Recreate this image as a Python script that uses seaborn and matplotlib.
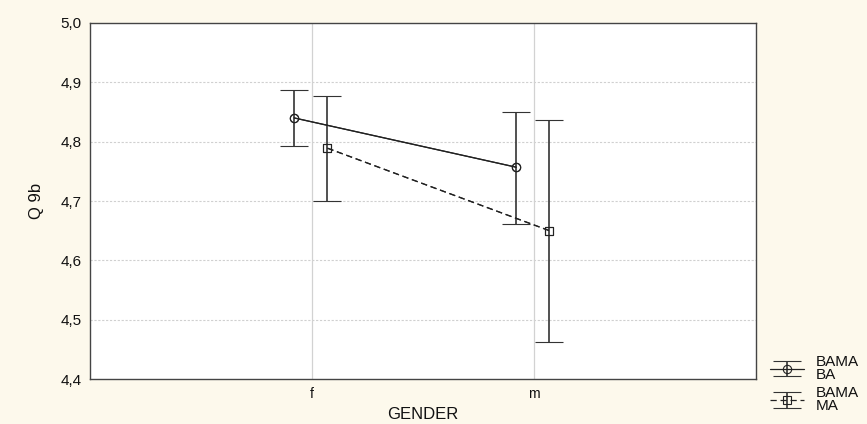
import matplotlib
matplotlib.use("Agg")
import matplotlib.pyplot as plt
import seaborn as sns
import pandas as pd
import numpy as np

# group means and confidence limits
genders = ["f", "m"]
ba_mean = [4.840, 4.757]
ba_low = [4.793, 4.662]
ba_high = [4.887, 4.850]
ma_mean = [4.789, 4.650]
ma_low = [4.700, 4.463]
ma_high = [4.877, 4.836]
series = ["BAMA\nBA", "BAMA\nMA"]
yticks = [4.4, 4.5, 4.6, 4.7, 4.8, 4.9, 5.0]

sns.set_theme(style="white")
plt.rcParams["font.family"] = ["Liberation Sans", "DejaVu Sans"]
plt.rcParams["text.color"] = "#111111"
plt.rcParams["axes.labelcolor"] = "#111111"
plt.rcParams["xtick.color"] = "#111111"
plt.rcParams["ytick.color"] = "#111111"

fig = plt.figure(figsize=(8.67, 4.24), dpi=100, facecolor="#fdf9ec")
ax = fig.add_axes([0.1038, 0.106, 0.768, 0.8398])
ax.set_facecolor("white")

pos = np.arange(len(genders))
shift = {series[0]: -0.08, series[1]: 0.07}
df = pd.DataFrame({
    "x": np.concatenate([pos + shift[series[0]], pos + shift[series[1]]]),
    "y": ba_mean + ma_mean,
    "lo": ba_low + ma_low,
    "hi": ba_high + ma_high,
    "grp": [series[0]] * 2 + [series[1]] * 2,
})

sns.lineplot(data=df, x="x", y="y", style="grp", markers=["o", "s"],
             dashes=["", (5, 3)], color="#222222", lw=0.9,
             markersize=6, markerfacecolor="none", markeredgecolor="#222222",
             markeredgewidth=0.8, legend=False, ax=ax, zorder=3)

handles = []
for g, mk, ls in zip(series, ["o", "s"], ["-", (0, (5, 3))]):
    d = df[df.grp == g]
    h = ax.errorbar(d.x, d.y, yerr=[d.y - d.lo, d.hi - d.y], marker=mk,
                    ms=6, mfc="none", mec="#222222", mew=0.8,
                    ecolor="#333333", elinewidth=1.2, capsize=10,
                    capthick=1.2, ls=ls, lw=0.9, color="#222222")
    handles.append(h)

ax.set_xlim(-1, 2)
ax.set_ylim(4.4, 5.0)
ax.set_xticks(pos)
ax.set_xticklabels(genders, fontsize=10)
ax.set_yticks(yticks)
ax.set_yticklabels([f"{t:.1f}".replace(".", ",") for t in yticks], fontsize=11)
for t in yticks[1:-1]:
    ax.axhline(t, color="#d0d0d0", lw=0.8, ls=(0, (2, 1.5)), zorder=0)
for p in pos:
    ax.axvline(p, color="#d2d2d2", lw=0.9, zorder=0)
for s in ax.spines.values():
    s.set_color("#444444")
    s.set_linewidth(1.0)
ax.tick_params(axis="both", direction="in", length=3, color="#444444", pad=6)

ax.set_xlabel("GENDER", fontsize=12, labelpad=4)
ax.set_ylabel("Q 9b", fontsize=12, labelpad=12)

leg = fig.legend(handles, series, loc="lower left", bbox_to_anchor=(0.876, 0.0),
                 frameon=False, fontsize=11, handlelength=2.2, labelspacing=0.3,
                 handletextpad=0.8, borderaxespad=0.3)
for t in leg.get_texts():
    t.set_linespacing(0.9)

fig.savefig("out.png", dpi=100, facecolor=fig.get_facecolor())
